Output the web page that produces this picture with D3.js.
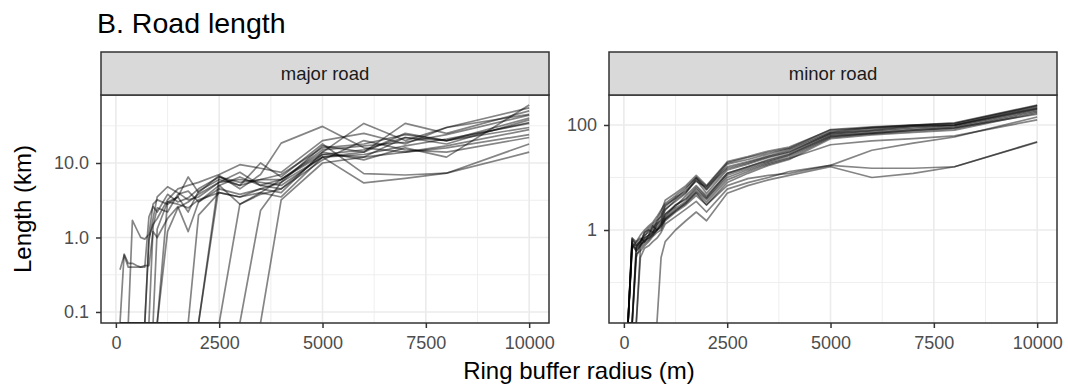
<!DOCTYPE html>
<html><head><meta charset="utf-8">
<script src="https://cdn.jsdelivr.net/npm/d3@7"></script>
<style>
body{margin:0;background:#fff}
text{font-family:"Liberation Sans",Arial,Helvetica,sans-serif}
</style>
</head><body>
<svg id="chart" width="1068" height="389"></svg>
<script>
// ---------- data ----------
const radius = [100,200,300,400,500,600,700,800,900,1000,1250,1500,1750,2000,2500,3000,3500,4000,5000,6000,7000,8000,10000];
const facetNames = ["major road", "minor road"];
const xTickValues = [0,2500,5000,7500,10000];
const xMinorGrid = [1250,3750,6250,8750];
const majorYTicks = [0.1,1,10];
const majorYTickLabels = ["0.1","1.0","10.0"];
const majorYMinorGrid = [0.316,3.16,31.6];
const minorYTicks = [1,100];
const minorYTickLabels = ["1","100"];
const minorYMinorGrid = [0.1,10];

// Length (km) per buffer radius, one row per site (0 = no road in ring)
const majorRoad = [
 [0.37,0.58,0.4,0.4,0.4,0.4,0.4,1.9,2.6,2.2,3.8,3.0,3.4,4.5,6.5,5.5,6.0,7.0,16,18,24,20,40],
 [0,0.6,0.45,0.45,0.42,0.4,0.42,0.42,1.2,1.0,1.8,2.6,1.2,3.0,5.0,6.5,5.0,6.0,14,34,20,30,55],
 [0,0,0,1.7,1.3,1.0,0.95,1.1,2.8,3.2,2.8,3.5,6.5,4.0,6.8,4.5,7.0,18.5,31,16,14,17,28],
 [0,0,0,0,0,0,0,0.9,1.8,3.5,4.8,4.0,3.2,3.5,5.5,6.0,5.5,5.0,12,14,34,25,50],
 [0,0,0,0,0,0,0,0,1.4,2.5,2.2,3.8,4.2,3.0,4.5,3.8,4.5,4.0,14,11,16,12,60],
 [0,0,0,0,0,0,0,0,0,0,1.2,2.5,3.0,3.8,5.5,7.5,5.0,4.5,11,20,15,14,22],
 [0,0,0,0,0,0,0,0,0,0,3.0,3.5,2.2,4.2,6.0,5.0,10,6.5,18,7.2,6.9,7.3,18],
 [0,0,0,0,0,0,0,0,0,0,0,0,0,2.0,4.0,3.5,4.5,5.5,12,5.4,6.2,7.3,14],
 [0,0,0,0,0,0,0,0,0,0,0,0,0,0,6.5,5.0,6.0,6.0,15,17,19,24,44],
 [0,0,0,0,0,0,0,0,0,0,0,0,0,0,5.0,2.8,3.8,4.5,13,15,22,18,38],
 [0,0,0,0,0,0,0,0,0,0,0,0,0,0,0,2.8,4.0,3.5,12,13,17,21,34],
 [0,0,0,0,0,0,0,0,0,0,0,0,0,0,0,0,2.3,5.5,17,14,25,20,30],
 [0,0,0,0,0,0,0,0,0,0,0,0,0,0,0,0,0,3.2,10,12,14,16,24],
 [0,0,0,0,0,0,0,1.0,1.5,1.8,3.2,4.5,5.0,5.5,7.0,9.5,8.5,7.5,20,25,18,30,45],
 [0,0,0,0,0,0,0,0,0,1.3,3.0,2.8,2.5,3.2,4.0,3.5,4.0,6.0,13,12,22,20,35]
];
const minorRoad = [
 [0,0.7,0.5,0.6,0.8,0.9,1.1,1.3,1.6,2.5,3.5,5.0,9.0,5.0,14,18,24,30,70,80,95,100,220],
 [0,0.6,0.4,0.5,0.7,0.8,1.0,1.5,1.8,3.0,4.0,6.0,10,6.0,18,22,28,35,75,90,100,110,240],
 [0,0,0.5,0.6,0.9,1.0,0.9,1.2,1.4,2.0,2.8,4.5,7.0,4.5,12,16,22,28,65,75,85,95,200],
 [0,0.45,0.6,0.7,0.6,0.8,1.2,1.0,1.3,1.8,3.0,3.8,6.0,4.0,11,15,20,26,60,70,80,90,190],
 [0,0.5,0.45,0.55,0.9,1.1,1.3,1.6,2.2,3.7,5.0,7.0,11,7.0,20,25,32,38,80,88,98,105,230],
 [0,0,0.35,0.4,0.5,0.6,0.75,0.9,1.0,1.5,2.2,3.0,4.5,3.0,8.0,12,17,22,55,65,72,80,170],
 [0,0,0,0,0,0,0,0,0.3,0.6,1.0,1.5,2.2,1.5,5.0,7.0,9.0,11,16,10,12,16,47],
 [0,0,0,0.3,0.45,0.5,0.6,0.7,0.9,1.3,1.8,2.5,3.5,2.2,6.0,8.0,10,13,17,33,45,59,142],
 [0,0.5,0.4,0.5,0.6,0.7,0.8,1.0,1.2,1.6,2.4,3.2,5.0,3.0,7.0,9.5,11,12,17,15,15,16,48],
 [0,0.65,0.55,0.65,0.75,1.0,1.2,1.4,1.9,2.8,4.2,5.5,8.5,6.5,16,20,26,33,72,85,95,100,210],
 [0,0,0.3,0.5,0.65,0.7,0.9,1.3,1.5,2.4,3.8,5.2,9.5,5.8,15,19,25,31,68,78,90,98,205],
 [0,0.7,0.6,0.8,1.0,1.2,1.4,1.8,2.4,3.2,4.5,6.5,10,6.8,19,24,30,36,82,92,100,108,235],
 [0,0,0.45,0.55,0.6,0.75,0.85,1.0,1.2,1.7,2.6,3.5,5.5,3.8,10,14,19,24,58,68,76,85,180],
 [0,0.55,0.5,0.6,0.7,0.8,0.9,1.1,1.3,2.0,3.0,4.0,6.5,4.2,12,16,21,27,62,70,80,88,160],
 [0,0,0,0.45,0.55,0.65,0.8,1.0,1.1,1.6,2.3,3.3,5.2,3.4,9.0,13,18,23,42,50,55,62,125]
];

// ---------- layout ----------
const svg = d3.select("#chart");
const panelTop = 95, panelBottom = 323, stripTop = 52;
const panels = [
  {name: facetNames[0], series: majorRoad, left: 101, right: 549,
   yDomain: [Math.pow(10,-1.148), Math.pow(10,1.913)],
   yTicks: majorYTicks, yLabels: majorYTickLabels, yMinor: majorYMinorGrid},
  {name: facetNames[1], series: minorRoad, left: 609, right: 1057,
   yDomain: [Math.pow(10,-1.771), Math.pow(10,2.571)],
   yTicks: minorYTicks, yLabels: minorYTickLabels, yMinor: minorYMinorGrid}
];

const gridCol = "#ebebeb", borderCol = "#333333", tickTextCol = "#4d4d4d";

panels.forEach((p, i) => {
  const x = d3.scaleLinear().domain([-360, 10480]).range([p.left, p.right]);
  const y = d3.scaleLog().domain(p.yDomain).range([panelBottom, panelTop]);
  const g = svg.append("g");

  const clipId = "clip" + i;
  svg.append("clipPath").attr("id", clipId).append("rect")
    .attr("x", p.left).attr("y", panelTop)
    .attr("width", p.right - p.left).attr("height", panelBottom - panelTop);

  g.append("rect").attr("x", p.left).attr("y", panelTop)
    .attr("width", p.right - p.left).attr("height", panelBottom - panelTop)
    .attr("fill", "#fff");

  // minor grid
  g.selectAll(".vminor").data(xMinorGrid).enter().append("line")
    .attr("x1", d => x(d)).attr("x2", d => x(d))
    .attr("y1", panelTop).attr("y2", panelBottom)
    .attr("stroke", gridCol).attr("stroke-width", 0.8);
  g.selectAll(".hminor").data(p.yMinor).enter().append("line")
    .attr("y1", d => y(d)).attr("y2", d => y(d))
    .attr("x1", p.left).attr("x2", p.right)
    .attr("stroke", gridCol).attr("stroke-width", 0.8);
  // major grid
  g.selectAll(".vmajor").data(xTickValues).enter().append("line")
    .attr("x1", d => x(d)).attr("x2", d => x(d))
    .attr("y1", panelTop).attr("y2", panelBottom)
    .attr("stroke", gridCol).attr("stroke-width", 1.6);
  g.selectAll(".hmajor").data(p.yTicks).enter().append("line")
    .attr("y1", d => y(d)).attr("y2", d => y(d))
    .attr("x1", p.left).attr("x2", p.right)
    .attr("stroke", gridCol).attr("stroke-width", 1.6);

  // lines
  const line = d3.line()
    .x(d => x(d[0]))
    .y(d => d[1] > 0 ? y(d[1]) : panelBottom);
  g.append("g").attr("clip-path", `url(#${clipId})`)
    .selectAll("path").data(p.series).enter().append("path")
    .attr("d", s => line(s.map((v, k) => [radius[k], v])))
    .attr("fill", "none").attr("stroke", "#000")
    .attr("stroke-opacity", 0.48).attr("stroke-width", 1.7)
    .attr("stroke-linejoin", "round");

  // panel border
  g.append("rect").attr("x", p.left).attr("y", panelTop)
    .attr("width", p.right - p.left).attr("height", panelBottom - panelTop)
    .attr("fill", "none").attr("stroke", borderCol).attr("stroke-width", 1.5);

  // strip
  g.append("rect").attr("x", p.left).attr("y", stripTop)
    .attr("width", p.right - p.left).attr("height", panelTop - stripTop)
    .attr("fill", "#d9d9d9").attr("stroke", borderCol).attr("stroke-width", 1.5);
  g.append("text").attr("x", (p.left + p.right) / 2).attr("y", (stripTop + panelTop) / 2)
    .attr("dy", "0.35em").attr("text-anchor", "middle")
    .attr("font-size", 18.5).attr("fill", "#1a1a1a").text(p.name);

  // axes
  const xAxis = g.append("g").attr("transform", `translate(0,${panelBottom})`)
    .call(d3.axisBottom(x).tickValues(xTickValues).tickFormat(d3.format("d"))
      .tickSize(5).tickPadding(8));
  const yAxis = g.append("g").attr("transform", `translate(${p.left},0)`)
    .call(d3.axisLeft(y).tickValues(p.yTicks)
      .tickFormat((d, k) => p.yLabels[k]).tickSize(5).tickPadding(7));
  [xAxis, yAxis].forEach(a => {
    a.select(".domain").remove();
    a.selectAll(".tick line").attr("stroke", borderCol).attr("stroke-width", 1.5);
    a.selectAll(".tick text").attr("fill", tickTextCol).attr("font-size", 18)
      .attr("font-family", '"Liberation Sans",Arial,sans-serif');
  });
});

// titles
svg.append("text").attr("x", 97).attr("y", 33).attr("font-size", 28.5)
  .attr("fill", "#000").text("B. Road length");
svg.append("text").attr("x", (101 + 1057) / 2).attr("y", 379)
  .attr("text-anchor", "middle").attr("font-size", 24).attr("fill", "#000")
  .text("Ring buffer radius (m)");
svg.append("text").attr("transform", `translate(31,${(panelTop + panelBottom) / 2}) rotate(-90)`)
  .attr("text-anchor", "middle").attr("font-size", 24).attr("fill", "#000")
  .text("Length (km)");
</script>
</body></html>
